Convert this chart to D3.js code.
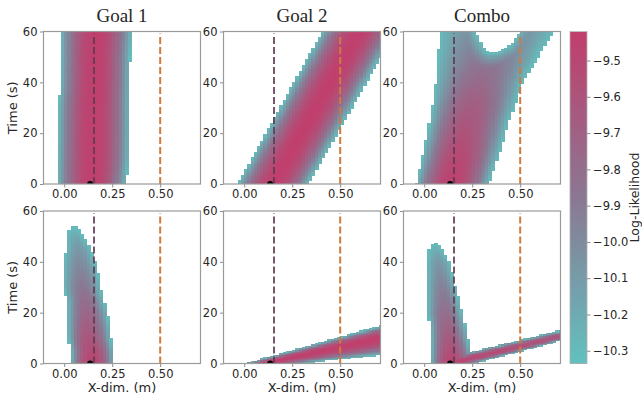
<!DOCTYPE html>
<html>
<head>
<meta charset="utf-8">
<script src="https://cdn.jsdelivr.net/npm/d3@7"></script>
<style>
  body { margin: 0; background: #fff; }
  svg text { font-family: "DejaVu Sans", sans-serif; fill: #262626; }
</style>
</head>
<body>
<svg id="chart" width="642" height="401"></svg>
<script>
// ── Data ──────────────────────────────────────────────────────────────────
const titles   = ['Goal 1', 'Goal 2', 'Combo'];
const xTicks   = [0, 0.25, 0.5];
const tTicks   = [0, 20, 40, 60];
const cbTicks  = [-9.5, -9.6, -9.7, -9.8, -9.9, -10.0, -10.1, -10.2, -10.3];
const goalX    = 0.155;   // purple dashed line
const targetX  = 0.5;     // orange dashed line
const startX   = 0.135;   // black dot at t = 0
const vMin = -10.335, vMax = -9.42, edgeV = -10.3;

// Goal 1, top row: per time (s) -> left edge, peak position, right edge (m), peak log-lik
const g1TopT     = [0, 10, 20, 30, 40, 50, 60];
const g1TopLeft  = [-0.036, -0.034, -0.032, -0.030, -0.020, -0.018, -0.018];
const g1TopMid   = [0.148, 0.150, 0.152, 0.155, 0.158, 0.160, 0.165];
const g1TopRight = [0.318, 0.336, 0.338, 0.338, 0.340, 0.342, 0.352];
const g1TopPeak  = [-9.43, -9.43, -9.43, -9.43, -9.43, -9.43, -9.43];

// Goal 2, top row
const g2TopT     = [0, 20, 40, 60];
const g2TopLeft  = [-0.035, 0.112, 0.258, 0.405];
const g2TopMid   = [0.150, 0.297, 0.446, 0.595];
const g2TopRight = [0.330, 0.482, 0.633, 0.785];
const g2TopPeak  = [-9.43, -9.43, -9.43, -9.43];

// Combo, top row
const cbTopT     = [0, 5, 10, 15, 20, 25, 30, 35, 40, 45, 50, 55, 60];
const cbTopLeft  = [-0.043, -0.028, -0.012, 0.002, 0.016, 0.028, 0.040, 0.050, 0.059, 0.066, 0.072, 0.077, 0.082];
const cbTopMid   = [0.140, 0.155, 0.170, 0.185, 0.200, 0.220, 0.240, 0.260, 0.280, 0.300, 0.320, 0.345, 0.370];
const cbTopRight = [0.336, 0.355, 0.378, 0.400, 0.420, 0.440, 0.465, 0.488, 0.510, 0.548, 0.590, 0.628, 0.672];
const cbTopPeak  = [-9.45, -9.47, -9.50, -9.54, -9.58, -9.62, -9.66, -9.71, -9.77, -9.82, -9.87, -9.91, -9.95];
// white gap at the top of the Combo panel
const cbHoleT    = [51.7, 52.5, 54.5, 58.7, 60];
const cbHoleLeft = [0.344, 0.320, 0.300, 0.275, 0.272];
const cbHoleRight= [0.344, 0.396, 0.445, 0.490, 0.495];

// Goal 1, bottom row
const g1BotT     = [0, 5, 10, 15, 20, 25, 30, 35, 40, 45, 50, 54];
const g1BotLeft  = [0.034, 0.034, 0.020, 0.017, 0.017, 0.015, 0.000, 0.000, 0.000, 0.012, 0.017, 0.030];
const g1BotMid   = [0.146, 0.144, 0.130, 0.125, 0.120, 0.110, 0.095, 0.088, 0.080, 0.075, 0.060, 0.048];
const g1BotRight = [0.258, 0.255, 0.241, 0.232, 0.222, 0.205, 0.189, 0.177, 0.160, 0.137, 0.100, 0.065];
const g1BotPeak  = [-9.45, -9.52, -9.60, -9.67, -9.74, -9.80, -9.87, -9.93, -10.00, -10.07, -10.17, -10.30];

// Goal 2, bottom row: per x (m) -> lower edge, peak time, upper edge (s)
const g2BotX     = [0, 0.25, 0.5, 0.75];
const g2BotLow   = [-2.1, -0.13, 1.85, 3.82];
const g2BotMid   = [-1.72, 2.58, 6.88, 11.18];
const g2BotHigh  = [0, 5.3, 10.6, 15.9];
const g2BotPeak  = [-9.43, -9.43, -9.43, -9.43];

// Combo, bottom row: lobe (per time) + thin band (per x)
const cbLobeT     = [0, 5, 10, 15, 20, 25, 30, 35, 40, 45, 47.7];
const cbLobeLeft  = [0.034, 0.034, 0.034, 0.030, 0.017, 0.017, 0.017, 0.017, 0.017, 0.025, 0.050];
const cbLobeMid   = [0.140, 0.137, 0.130, 0.122, 0.113, 0.104, 0.095, 0.087, 0.078, 0.065, 0.055];
const cbLobeRight = [0.250, 0.241, 0.224, 0.212, 0.197, 0.180, 0.160, 0.145, 0.128, 0.090, 0.060];
const cbLobePeak  = [-9.45, -9.55, -9.64, -9.72, -9.80, -9.87, -9.93, -10.00, -10.07, -10.20, -10.30];
const cbBandX     = [0.15, 0.45, 0.75];
const cbBandLow   = [-2.0, 4.0, 10.0];
const cbBandMid   = [0.65, 6.2, 11.75];
const cbBandHigh  = [2.98, 8.4, 13.85];
const cbBandPeak  = [-9.48, -9.55, -9.62];

// ── Layout ────────────────────────────────────────────────────────────────
const colLeft = [43.5, 223.5, 403.5];
const rowTop  = [31.5, 211];
const pw = 157, ph = 152.5;
const cbar = { x: 570, y: 31.5, w: 17, h: 332 };
const holeFadePx = 20;   // teal rim width round the gap

const x = d3.scaleLinear().domain([-0.108, 0.71]).range([0, pw]);
const y = d3.scaleLinear().domain([0, 60]).range([ph, 0]);
const color = d3.scaleLinear()
  .domain([vMin, (vMin + vMax) / 2, vMax])
  .range(['#62c1bf', '#8a7893', '#c13e6c'])
  .interpolate(d3.interpolateRgb)
  .clamp(true);

// band: along = 't' (edges are x positions per time) or 'x' (edges are times per x)
function band(along, at, lo, mid, hi, peak) {
  const s = arr => d3.scaleLinear().domain(at).range(arr);
  return { along, at, lo: s(lo), mid: s(mid), hi: s(hi), peak: s(peak) };
}
function hole(at, lo, hi) {
  // outline of the gap in pixels, left side downwards then right side upwards
  const outline = at.map((t, k) => [x(lo[k]), y(t)]).reverse()
    .concat(at.map((t, k) => [x(hi[k]), y(t)]));
  return { at, outline,
           lo: d3.scaleLinear().domain(at).range(lo),
           hi: d3.scaleLinear().domain(at).range(hi) };
}

const panels = [
  { row: 0, col: 0, bands: [band('t', g1TopT, g1TopLeft, g1TopMid, g1TopRight, g1TopPeak)] },
  { row: 0, col: 1, bands: [band('t', g2TopT, g2TopLeft, g2TopMid, g2TopRight, g2TopPeak)] },
  { row: 0, col: 2, bands: [band('t', cbTopT, cbTopLeft, cbTopMid, cbTopRight, cbTopPeak)],
    hole: hole(cbHoleT, cbHoleLeft, cbHoleRight) },
  { row: 1, col: 0, bands: [band('t', g1BotT, g1BotLeft, g1BotMid, g1BotRight, g1BotPeak)] },
  { row: 1, col: 1, bands: [band('x', g2BotX, g2BotLow, g2BotMid, g2BotHigh, g2BotPeak)] },
  { row: 1, col: 2, bands: [band('t', cbLobeT, cbLobeLeft, cbLobeMid, cbLobeRight, cbLobePeak),
                            band('x', cbBandX, cbBandLow, cbBandMid, cbBandHigh, cbBandPeak)] },
];

function bandValue(b, xv, tv) {
  const u = b.along === 't' ? tv : xv;
  const w = b.along === 't' ? xv : tv;
  if (u < b.at[0] || u > b.at[b.at.length - 1]) return null;
  const lo = b.lo(u), mid = b.mid(u), hi = b.hi(u), pk = b.peak(u);
  if (w < lo || w > hi) return null;
  const half = w < mid ? mid - lo : hi - mid;
  const r = half > 0 ? Math.min(1, Math.abs(w - mid) / half) : 0;
  return { v: pk - (pk - edgeV) * r * r, pk };
}

function segDist(px, py, a, b) {
  const vx = b[0] - a[0], vy = b[1] - a[1];
  const len2 = vx * vx + vy * vy;
  const k = len2 ? Math.max(0, Math.min(1, ((px - a[0]) * vx + (py - a[1]) * vy) / len2)) : 0;
  return Math.hypot(px - a[0] - k * vx, py - a[1] - k * vy);
}

// grid of the likelihood map
const dx = 1 / 60, dt = 0.5;
const xCells = d3.range(-7, 43).map(i => i * dx);
const tCells = d3.range(0, 120).map(j => j * dt);

function cellsFor(p) {
  const out = [];
  xCells.forEach(x0 => {
    tCells.forEach(t0 => {
      const xc = x0 + dx / 2, tc = t0 + dt / 2;
      if (p.hole && tc >= p.hole.at[0] &&
          xc > p.hole.lo(tc) && xc < p.hole.hi(tc)) return;
      let best = null;
      p.bands.forEach(b => {
        const bv = bandValue(b, xc, tc);
        if (bv && (!best || bv.v > best.v)) best = bv;
      });
      if (!best) return;
      let v = best.v;
      if (p.hole) {
        const px = x(xc), py = y(tc), o = p.hole.outline;
        let d = Infinity;
        for (let k = 1; k < o.length; k++) d = Math.min(d, segDist(px, py, o[k - 1], o[k]));
        const r = Math.max(0, 1 - d / holeFadePx);
        v = Math.min(v, best.pk - (best.pk - edgeV) * r * r);
      }
      out.push({ x0, t0, v });
    });
  });
  return out;
}

// ── Draw ──────────────────────────────────────────────────────────────────
const svg = d3.select('#chart');
const defs = svg.append('defs');

panels.forEach((p, i) => {
  const g = svg.append('g')
    .attr('transform', `translate(${colLeft[p.col]},${rowTop[p.row]})`);

  defs.append('clipPath').attr('id', `clip${i}`)
    .append('rect').attr('width', pw).attr('height', ph);

  const plot = g.append('g').attr('clip-path', `url(#clip${i})`);

  // cells overlap a little and are drawn crisp so no seams show
  plot.append('g').attr('shape-rendering', 'crispEdges')
    .selectAll('rect')
    .data(cellsFor(p))
    .join('rect')
      .attr('x', d => x(d.x0))
      .attr('y', d => y(d.t0 + dt))
      .attr('width', x(dx) - x(0) + 0.8)
      .attr('height', y(0) - y(dt) + 0.8)
      .attr('fill', d => color(d.v));

  // reference lines
  plot.append('line')
    .attr('x1', x(goalX)).attr('x2', x(goalX))
    .attr('y1', y(0)).attr('y2', y(60) + 2)
    .attr('stroke', '#5e3b52').attr('stroke-opacity', 0.85)
    .attr('stroke-width', 2).attr('stroke-dasharray', '7 3');
  plot.append('line')
    .attr('x1', x(targetX)).attr('x2', x(targetX))
    .attr('y1', y(0)).attr('y2', y(60) + 2)
    .attr('stroke', '#cf7a3e')
    .attr('stroke-width', 2).attr('stroke-dasharray', '7 3');

  plot.append('circle')
    .attr('cx', x(startX)).attr('cy', y(0)).attr('r', 3)
    .attr('fill', '#000');

  // axes
  const xa = g.append('g').attr('transform', `translate(0,${ph})`)
    .call(d3.axisBottom(x).tickValues(xTicks).tickFormat(d3.format('.2f'))
      .tickSize(3.5).tickPadding(2.5));
  const ya = g.append('g')
    .call(d3.axisLeft(y).tickValues(tTicks).tickSize(3.5).tickPadding(2.5));
  [xa, ya].forEach(a => {
    a.select('.domain').remove();
    a.selectAll('line').attr('stroke', '#8c8c8c');
    a.selectAll('text').attr('font-size', 11.5).attr('font-family', 'DejaVu Sans').attr('fill', '#262626');
  });

  g.append('rect')
    .attr('width', pw).attr('height', ph)
    .attr('fill', 'none').attr('stroke', '#9a9a9a').attr('stroke-width', 1.2);

  if (p.row === 0) {
    g.append('text')
      .attr('x', pw / 2).attr('y', -9.5)
      .attr('text-anchor', 'middle')
      .style('font-family', '"Liberation Serif", serif')
      .attr('font-size', 19)
      .text(titles[p.col]);
  }
  if (p.col === 0) {
    g.append('text')
      .attr('transform', `translate(-27,${ph / 2}) rotate(-90)`)
      .attr('text-anchor', 'middle')
      .attr('font-size', 13)
      .text('Time (s)');
  }
  if (p.row === 1) {
    g.append('text')
      .attr('x', pw / 2).attr('y', ph + 28.5)
      .attr('text-anchor', 'middle')
      .attr('font-size', 13)
      .text('X-dim. (m)');
  }
});

// ── Colour bar ────────────────────────────────────────────────────────────
const cS = d3.scaleLinear().domain([vMin, vMax]).range([cbar.h, 0]);
const cg = svg.append('g').attr('transform', `translate(${cbar.x},${cbar.y})`);
const steps = d3.range(0, 256).map(k => vMin + (vMax - vMin) * k / 256);
const stepV = (vMax - vMin) / 256;
cg.append('g').attr('shape-rendering', 'crispEdges')
  .selectAll('rect')
  .data(steps)
  .join('rect')
    .attr('x', 0).attr('width', cbar.w)
    .attr('y', d => cS(d + stepV))
    .attr('height', cS(vMin) - cS(vMin + stepV) + 0.8)
    .attr('fill', d => color(d + stepV / 2));
cg.append('rect')
  .attr('width', cbar.w).attr('height', cbar.h)
  .attr('fill', 'none').attr('stroke', '#b0b0b0').attr('stroke-width', 0.8);
const ca = cg.append('g').attr('transform', `translate(${cbar.w},0)`)
  .call(d3.axisRight(cS).tickValues(cbTicks).tickFormat(d3.format('.1f'))
    .tickSize(3.5).tickPadding(2.5));
ca.select('.domain').remove();
ca.selectAll('line').attr('stroke', '#8c8c8c');
ca.selectAll('text').attr('font-size', 11.5).attr('font-family', 'DejaVu Sans').attr('fill', '#262626');

svg.append('text')
  .attr('transform', `translate(638.5,${cbar.y + cbar.h / 2}) rotate(-90)`)
  .attr('text-anchor', 'middle')
  .attr('font-size', 12.5)
  .text('Log-Likelihood');
</script>
</body>
</html>
